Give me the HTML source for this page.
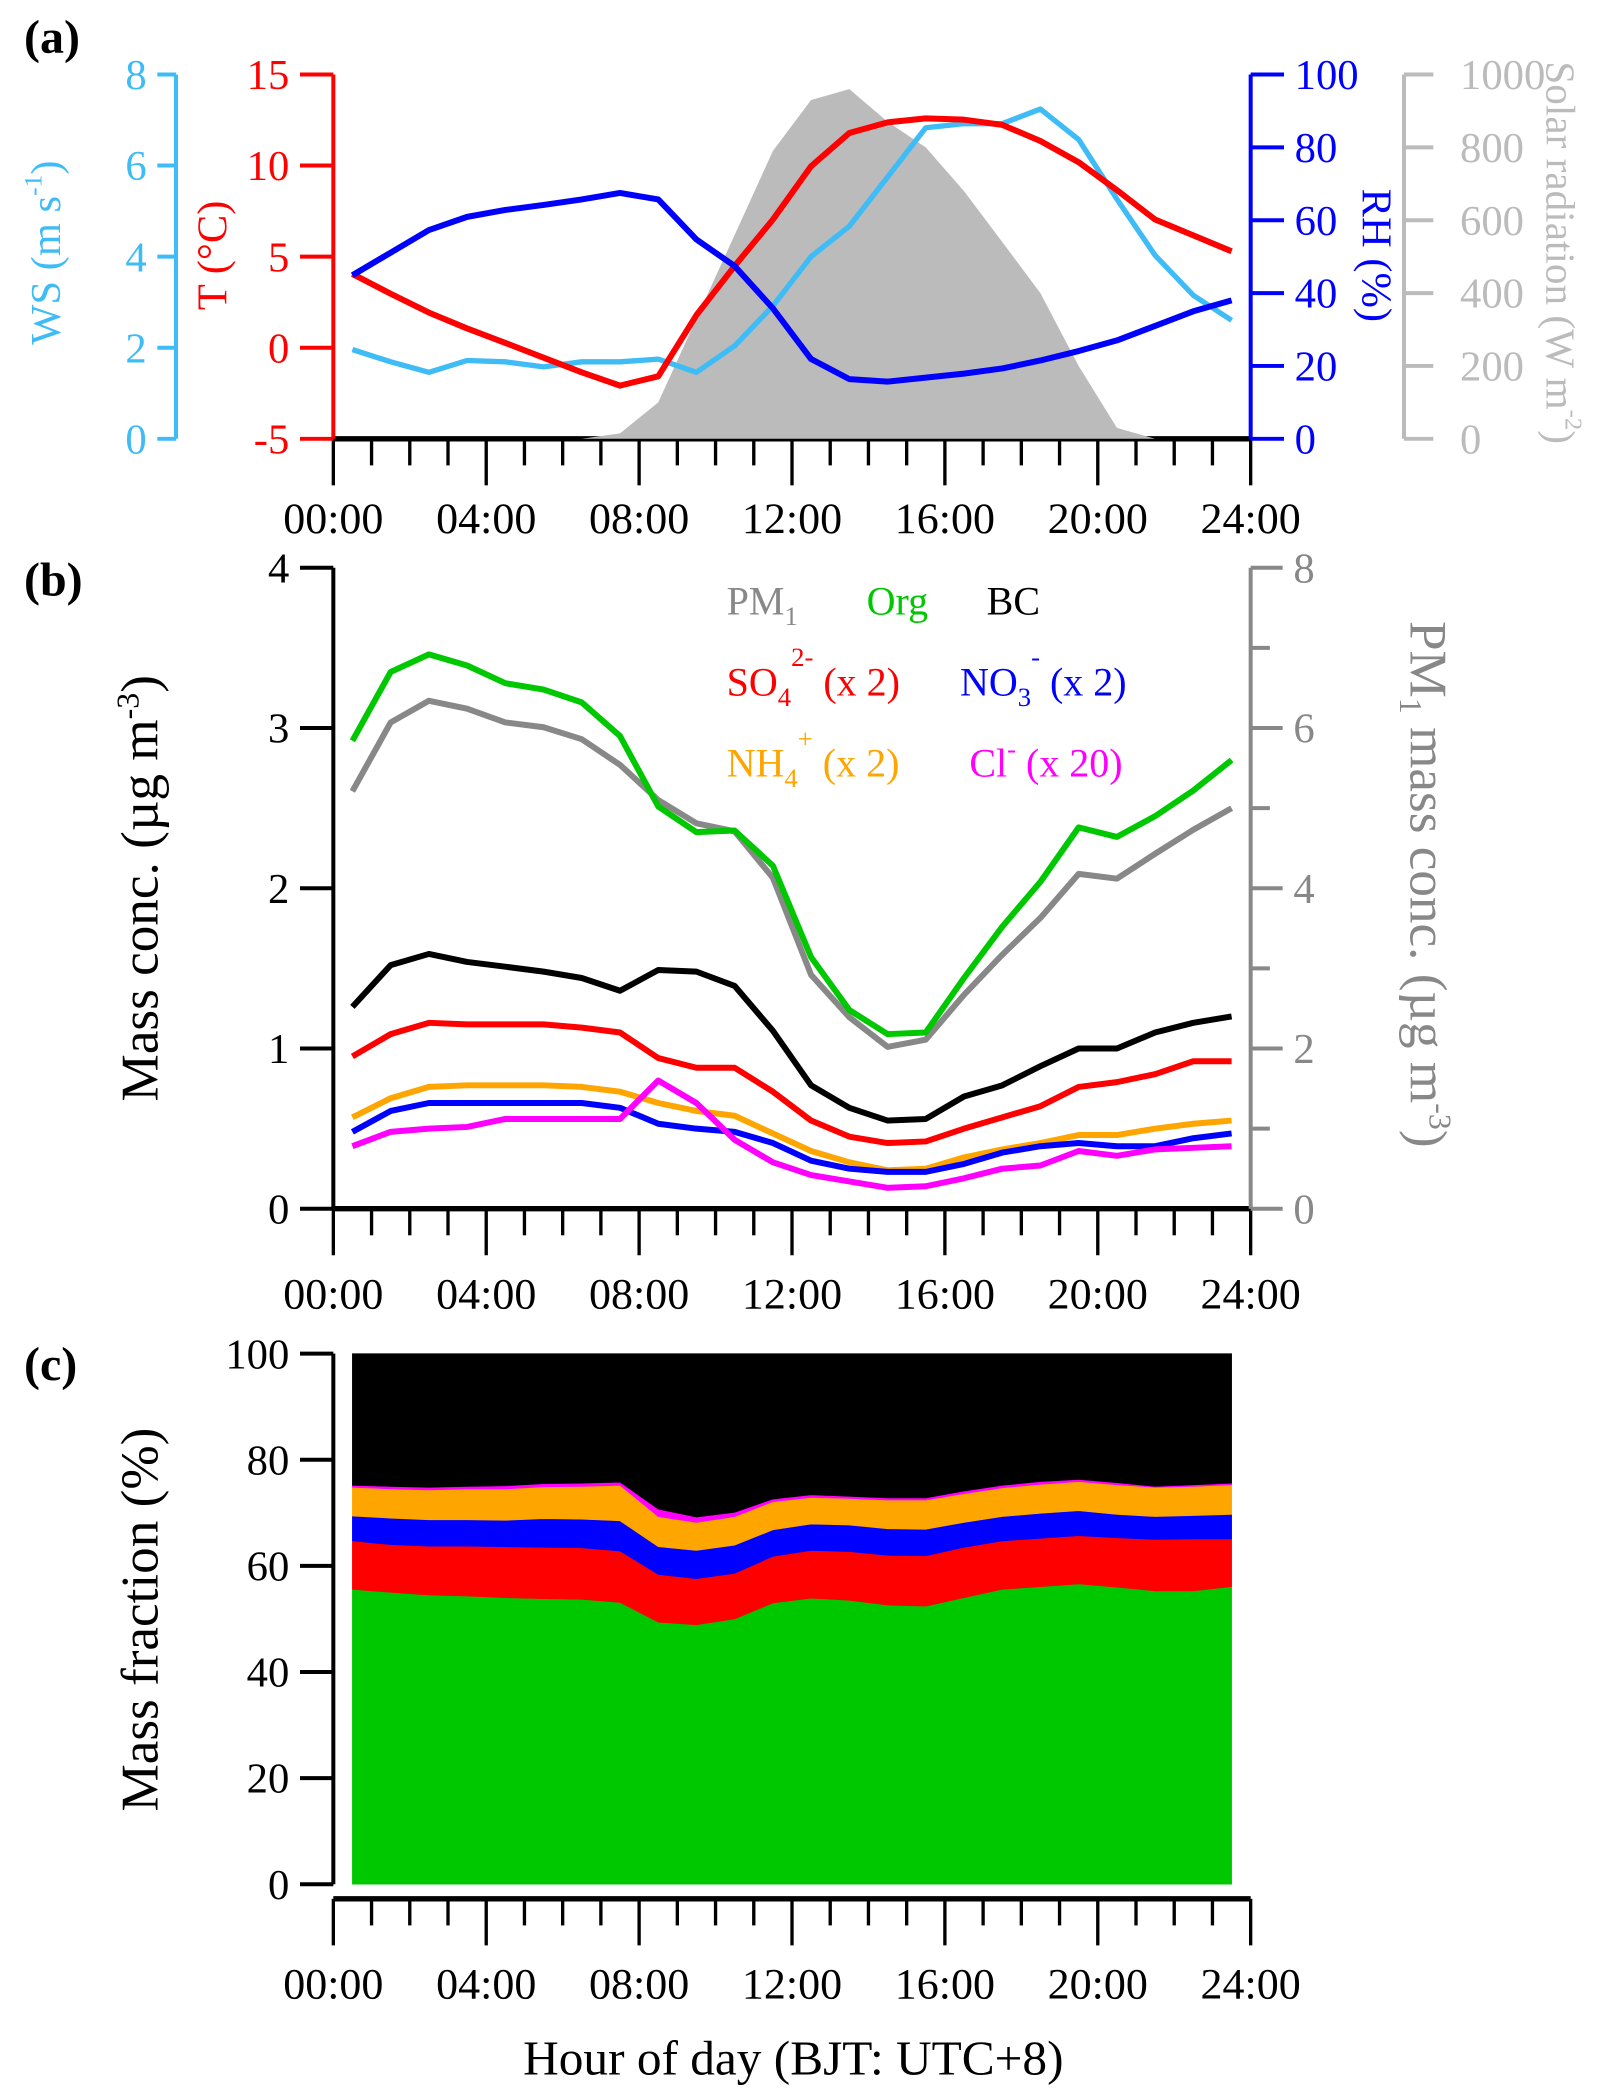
<!DOCTYPE html>
<html><head><meta charset="utf-8"><style>
html,body{margin:0;padding:0;background:#fff;}
svg, svg text, svg tspan{font-family:"Liberation Serif","Times New Roman",Times,serif;}
</style></head><body>
<svg id="chart" xmlns="http://www.w3.org/2000/svg" width="1600" height="2085" viewBox="0 0 1200 1568" preserveAspectRatio="none" font-family="Liberation Serif, Times New Roman, serif"></svg>
<script>
// ---------- data ----------
const hours = [0.5,1.5,2.5,3.5,4.5,5.5,6.5,7.5,8.5,9.5,10.5,11.5,12.5,13.5,14.5,15.5,16.5,17.5,18.5,19.5,20.5,21.5,22.5,23.5];
const xTickLabels = ["00:00","04:00","08:00","12:00","16:00","20:00","24:00"];
// panel a
const wsVals = [1.96,1.69,1.46,1.72,1.69,1.58,1.69,1.69,1.75,1.46,2.04,2.92,4.0,4.67,5.75,6.83,6.92,6.92,7.24,6.57,5.26,4.03,3.15,2.6];
const tVals = [4.05,2.96,1.93,1.06,0.26,-0.55,-1.35,-2.08,-1.57,1.79,4.49,7.04,9.96,11.79,12.37,12.59,12.52,12.23,11.35,10.18,8.65,7.04,6.17,5.29];
const rhVals = [44.9,51.1,57.3,60.9,62.8,64.2,65.7,67.5,65.7,54.7,47.4,35.8,21.9,16.4,15.7,16.8,17.9,19.3,21.5,24.1,27.0,31.0,35.0,38.0];
const solarVals = [0,0,0,0,0,0,0,15,100,330,560,790,930,960,870,800,680,540,400,200,30,0,0,0];
// panel b
const pm1Vals = [5.21,6.07,6.34,6.24,6.07,6.01,5.86,5.54,5.10,4.81,4.71,4.13,2.92,2.39,2.02,2.11,2.67,3.17,3.63,4.18,4.12,4.43,4.73,5.00];
const orgVals = [2.92,3.35,3.46,3.39,3.28,3.24,3.16,2.95,2.51,2.35,2.36,2.14,1.57,1.24,1.09,1.10,1.44,1.76,2.04,2.38,2.32,2.45,2.61,2.80];
const bcVals = [1.26,1.52,1.59,1.54,1.51,1.48,1.44,1.36,1.49,1.48,1.39,1.11,0.77,0.63,0.55,0.56,0.70,0.77,0.89,1.00,1.00,1.10,1.16,1.20];
const so4Vals = [0.95,1.09,1.16,1.15,1.15,1.15,1.13,1.10,0.94,0.88,0.88,0.73,0.55,0.45,0.41,0.42,0.50,0.57,0.64,0.76,0.79,0.84,0.92,0.92];
const nh4Vals = [0.57,0.69,0.76,0.77,0.77,0.77,0.76,0.73,0.66,0.61,0.58,0.47,0.36,0.29,0.24,0.25,0.32,0.37,0.41,0.46,0.46,0.50,0.53,0.55];
const no3Vals = [0.48,0.61,0.66,0.66,0.66,0.66,0.66,0.63,0.53,0.50,0.48,0.41,0.30,0.25,0.23,0.23,0.28,0.35,0.39,0.41,0.39,0.39,0.44,0.47];
const clVals = [0.39,0.48,0.50,0.51,0.56,0.56,0.56,0.56,0.80,0.66,0.43,0.29,0.21,0.17,0.13,0.14,0.19,0.25,0.27,0.36,0.33,0.37,0.38,0.39];
// panel c (percent)
const orgFrac = [55.6,55.0,54.5,54.3,54.0,53.8,53.7,53.1,49.4,48.9,50.0,53.0,53.9,53.5,52.6,52.4,54.0,55.6,56.1,56.6,56.0,55.3,55.3,56.1];
const so4Frac = [9.1,9.0,9.2,9.4,9.6,9.7,9.7,9.7,9.0,8.7,8.6,8.8,9.0,9.2,9.4,9.5,9.5,9.1,9.1,9.1,9.3,9.7,9.8,9.0];
const no3Frac = [4.7,5.0,5.0,5.0,5.0,5.4,5.4,5.7,5.2,5.3,5.3,5.0,5.0,5.0,5.0,5.0,4.7,4.6,4.7,4.7,4.4,4.3,4.4,4.6];
const nh4Frac = [5.4,5.5,5.6,5.8,5.9,6.0,6.2,6.7,5.7,5.3,5.4,5.3,5.0,5.0,5.4,5.5,5.4,5.4,5.5,5.5,5.6,5.5,5.5,5.6];
const clFrac = [0.4,0.5,0.5,0.5,0.6,0.6,0.6,0.6,1.4,1.0,0.8,0.5,0.5,0.4,0.4,0.4,0.5,0.5,0.5,0.4,0.4,0.2,0.3,0.3];

// ---------- helpers ----------
const svg = document.getElementById('chart');
const NS = 'http://www.w3.org/2000/svg';
const FONT = '"Liberation Serif", "Times New Roman", serif';
function el(tag, attrs, parent){
  const e = document.createElementNS(NS, tag);
  for (const k in attrs) e.setAttribute(k, attrs[k]);
  (parent||svg).appendChild(e);
  return e;
}
const X0 = 250, X1 = 938;
const xh = h => X0 + h*(X1-X0)/24;
const lin = (v0,v1,p0,p1) => v => p0 + (v-v0)*(p1-p0)/(v1-v0);

function line(vals, yf, color, name, w){
  const d = vals.map((v,i)=>(i?'L':'M')+xh(hours[i]).toFixed(1)+','+yf(v).toFixed(1)).join('');
  const p = el('path',{d:d,fill:'none',stroke:color,'stroke-width':w||4.5,'stroke-linejoin':'round'});
  
  
  return p;
}
function text(x,y,str,opts){
  const t = el('text', Object.assign({x:x,y:y,'font-size':31,fill:'#000','font-family':FONT},opts||{}));
  t.textContent = str;
  return t;
}
function xAxis(y, labelY, prefix){
  const g = el('g',{});
  
  
  el('line',{x1:X0,y1:y,x2:X1,y2:y,stroke:'#000','stroke-width':4},g);
  for (let h=0; h<=24; h++){
    const major = h%4===0;
    el('line',{x1:xh(h),y1:y,x2:xh(h),y2:y+(major?35:20),stroke:'#000','stroke-width':2.5},g);
  }
  xTickLabels.forEach((s,i)=>{
    const t = text(xh(i*4), labelY, s, {'text-anchor':'middle','font-size':33});
    
    
    g.appendChild(t);
  });
}
function yAxis(x, yf, ticks, labels, color, side, name, tickLen, minor){
  const g = el('g',{});
  
  
  const ys = ticks.map(yf);
  el('line',{x1:x,y1:Math.min(...ys),x2:x,y2:Math.max(...ys),stroke:color,'stroke-width':3},g);
  const dir = side==='left'?-1:1;
  ticks.forEach((v,i)=>{
    const isMinor = minor && labels[i]==='';
    el('line',{x1:x,y1:yf(v),x2:x+dir*(isMinor?tickLen*0.6:tickLen),y2:yf(v),stroke:color,'stroke-width':3},g);
    if (labels[i]!==''){
      const t = text(x+dir*(tickLen+8), yf(v)+11, labels[i], {'text-anchor':side==='left'?'end':'start',fill:color,'font-size':32});
      
      
      g.appendChild(t);
    }
  });
}
function rotTitle(x,y,angle,parts,color,name,size){
  const t = el('text',{x:0,y:0,transform:`translate(${x},${y}) rotate(${angle})`,'text-anchor':'middle','font-size':size||34,fill:color,'font-family':FONT});
  
  
  parts.forEach(p=>{
    const s = el('tspan',{},t);
    if (p.sup){ s.setAttribute('dy',-14); s.setAttribute('font-size',(size||34)*0.6); }
    if (p.sub){ s.setAttribute('dy',8); s.setAttribute('font-size',(size||34)*0.6); }
    if (p.back) s.setAttribute('dy',p.back);
    s.textContent = p.t;
  });
  return t;
}

// ---------- panel a ----------
const aTop=56, aBot=330;
const yWS = lin(0,8,aBot,aTop), yT = lin(-5,15,aBot,aTop), yRH = lin(0,100,aBot,aTop), ySol = lin(0,1000,aBot,aTop);
xAxis(aBot, 401, 'panel-a');
{
  let d = 'M'+xh(hours[0])+','+aBot;
  solarVals.forEach((v,i)=>{ d += 'L'+xh(hours[i]).toFixed(1)+','+ySol(v).toFixed(1); });
  d += 'L'+xh(hours[hours.length-1])+','+aBot+'Z';
  const a = el('path',{d:d,fill:'#bbbbbb',stroke:'none'});
  
  
}
line(wsVals,yWS,'#3fbcf6','ws-line',4);
line(tVals,yT,'#ff0000','temperature-line',4.5);
line(rhVals,yRH,'#0000ff','rh-line',4.5);
yAxis(132, yWS, [0,2,4,6,8], ['0','2','4','6','8'], '#3fbcf6','left','ws-axis',14);
yAxis(250, yT, [-5,0,5,10,15], ['-5','0','5','10','15'], '#ff0000','left','temperature-axis',25);
yAxis(938, yRH, [0,20,40,60,80,100], ['0','20','40','60','80','100'], '#0000ff','right','rh-axis',25);
yAxis(1053, ySol, [0,200,400,600,800,1000], ['0','200','400','600','800','1000'], '#bbbbbb','left','solar-axis',0);
{
  const g = svg.lastChild;
  [0,200,400,600,800,1000].forEach(v=>{ el('line',{x1:1053,y1:ySol(v),x2:1075,y2:ySol(v),stroke:'#bbbbbb','stroke-width':3},g); });
  g.querySelectorAll('text').forEach(t=>{ t.setAttribute('x',1095); t.setAttribute('text-anchor','start'); });
}
rotTitle(45,190,-90,[{t:'WS (m s'},{t:'-1',sup:true},{t:')',back:14}],'#3fbcf6','ws-axis-title',32);
rotTitle(170,192,-90,[{t:'T (°C)'}],'#ff0000','temperature-axis-title',32);
rotTitle(1022,192,90,[{t:'RH (%)'}],'#0000ff','rh-axis-title',32);
rotTitle(1160,190,90,[{t:'Solar radiation (W m'},{t:'-2',sup:true},{t:')',back:14}],'#bbbbbb','solar-axis-title',31);
{const t=text(18,40,'(a)',{'font-weight':'bold','font-size':36});}

// ---------- panel b ----------
const bTop=427, bBot=909;
const yL = lin(0,4,bBot,bTop), yR = lin(0,8,bBot,bTop);
line(pm1Vals,yR,'#888888','pm1-line');
line(orgVals,yL,'#00c800','org-line');
line(bcVals,yL,'#000000','bc-line');
line(so4Vals,yL,'#ff0000','so4-line');
line(nh4Vals,yL,'#ffa500','nh4-line');
line(no3Vals,yL,'#0000ff','no3-line');
line(clVals,yL,'#ff00ff','cl-line');
xAxis(bBot, 984, 'panel-b');
yAxis(250, yL, [0,1,2,3,4], ['0','1','2','3','4'], '#000','left','mass-conc-axis',25);
yAxis(938, yR, [0,1,2,3,4,5,6,7,8], ['0','','2','','4','','6','','8'], '#888888','right','pm1-axis',24,true);
rotTitle(118,668,-90,[{t:'Mass conc. (µg m'},{t:'-3',sup:true},{t:')',back:14}],'#000','mass-conc-axis-title',40);
rotTitle(1058,665,90,[{t:'PM'},{t:'1',sub:true},{t:' mass conc. (µg m',back:-8},{t:'-3',sup:true},{t:')',back:14}],'#888888','pm1-axis-title',40);
{const t=text(18,448,'(b)',{'font-weight':'bold','font-size':36});}
function legend(x,y,parts,color,name){
  const t = el('text',{x:x,y:y,'font-size':30,fill:color,'font-family':FONT});
  
  
  parts.forEach(p=>{
    const s = el('tspan',{},t);
    if (p.sub){ s.setAttribute('dy',8); s.setAttribute('font-size',20); }
    if (p.sup){ s.setAttribute('dy',p.sup); s.setAttribute('font-size',20); }
    if (p.dy) s.setAttribute('dy',p.dy);
    s.textContent = p.t;
  });
}
legend(545,462,[{t:'PM'},{t:'1',sub:true}],'#888888','legend-pm1');
legend(650,462,[{t:'Org'}],'#00c800','legend-org');
legend(740,462,[{t:'BC'}],'#000','legend-bc');
legend(545,523,[{t:'SO'},{t:'4',sub:true},{t:'2-',sup:-30},{t:' (x 2)',dy:22}],'#ff0000','legend-so4');
legend(720,523,[{t:'NO'},{t:'3',sub:true},{t:'-',sup:-30},{t:'  (x 2)',dy:22}],'#0000ff','legend-no3');
legend(545,584,[{t:'NH'},{t:'4',sub:true},{t:'+',sup:-30},{t:'  (x 2)',dy:22}],'#ffa500','legend-nh4');
legend(727,584,[{t:'Cl'},{t:'-',sup:-14},{t:' (x 20)',dy:14}],'#ff00ff','legend-cl');

// ---------- panel c ----------
const cTop=1018, cBot=1417;
const yP = lin(0,100,cBot,cTop);
{
  const layers = [
    {vals:orgFrac,color:'#00c800',name:'org-fraction-area'},
    {vals:so4Frac,color:'#ff0000',name:'so4-fraction-area'},
    {vals:no3Frac,color:'#0000ff',name:'no3-fraction-area'},
    {vals:nh4Frac,color:'#ffa500',name:'nh4-fraction-area'},
    {vals:clFrac,color:'#ff00ff',name:'cl-fraction-area'}
  ];
  const base = hours.map(()=>0);
  const bcTopVals = hours.map(()=>100);
  const cumAll = hours.map((h,i)=>layers.reduce((s,l)=>s+l.vals[i],0));
  const drawBand = (lo, hi, color, name) => {
    let d='';
    hi.forEach((v,i)=>{ d += (i?'L':'M')+xh(hours[i]).toFixed(1)+','+yP(v).toFixed(1); });
    for (let i=lo.length-1;i>=0;i--) d += 'L'+xh(hours[i]).toFixed(1)+','+yP(lo[i]).toFixed(1);
    const p = el('path',{d:d+'Z',fill:color,stroke:color,'stroke-width':0.5});
    
    
  };
  layers.forEach(l=>{
    const lo = base.slice();
    const hi = base.map((b,i)=>b+l.vals[i]);
    drawBand(lo,hi,l.color,l.name);
    hi.forEach((v,i)=>base[i]=v);
  });
  drawBand(cumAll, bcTopVals, '#000000', 'bc-fraction-area');
}
yAxis(250, yP, [0,20,40,60,80,100], ['0','20','40','60','80','100'], '#000','left','mass-fraction-axis',25);
xAxis(1428, 1503, 'panel-c');
rotTitle(118,1218,-90,[{t:'Mass fraction (%)'}],'#000','mass-fraction-axis-title',40);
{const t=text(595,1560,'Hour of day (BJT: UTC+8)',{'text-anchor':'middle','font-size':37});}
{const t=text(18,1038,'(c)',{'font-weight':'bold','font-size':36});}
</script>
</body></html>
